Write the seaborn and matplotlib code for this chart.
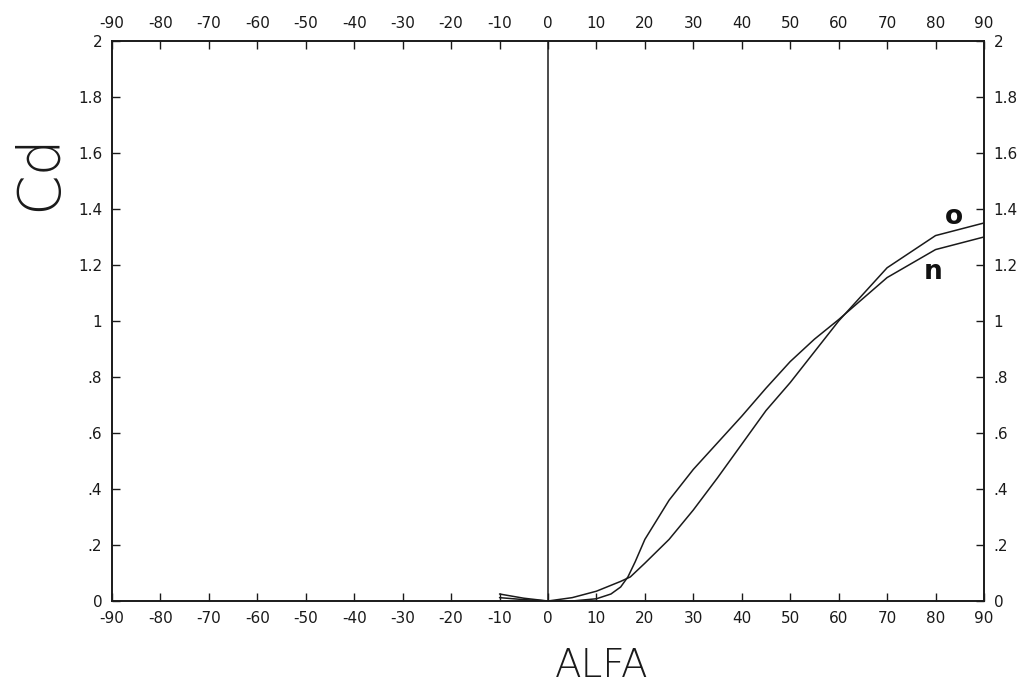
import matplotlib
matplotlib.use("Agg")
import matplotlib.pyplot as plt
import seaborn as sns
import pandas as pd

# --- data ---
alfa_o = [-10, -5, 0, 5, 10, 15, 17, 20, 25, 30, 35, 40, 45, 50, 55, 60, 70, 80, 90]
cd_o = [0.025, 0.01, 0.0, 0.012, 0.035, 0.07, 0.086, 0.135, 0.22, 0.325, 0.44,
        0.56, 0.68, 0.78, 0.89, 1.0, 1.19, 1.305, 1.35]

alfa_n = [-10, -5, 0, 5, 10, 13, 15, 16.5, 18, 20, 25, 30, 35, 40, 45, 50, 55, 60, 70, 80, 90]
cd_n = [0.012, 0.005, 0.0, 0.0, 0.008, 0.025, 0.05, 0.086, 0.14, 0.22, 0.36, 0.47,
        0.565, 0.66, 0.76, 0.855, 0.935, 1.005, 1.155, 1.255, 1.30]

x_ticks = list(range(-90, 100, 10))
x_tick_labels = [str(v) for v in x_ticks]
y_ticks = [0, 0.2, 0.4, 0.6, 0.8, 1.0, 1.2, 1.4, 1.6, 1.8, 2.0]
y_tick_labels = ["0", ".2", ".4", ".6", ".8", "1", "1.2", "1.4", "1.6", "1.8", "2"]

curve_labels = ["o", "n"]
label_pos_alfa = [83.9, 79.4]
label_pos_cd = [1.37, 1.175]

df = pd.concat([
    pd.DataFrame({"ALFA": alfa_o, "Cd": cd_o, "curve": "o"}),
    pd.DataFrame({"ALFA": alfa_n, "Cd": cd_n, "curve": "n"}),
])

sns.set_style("ticks")
plt.rcParams["font.family"] = ["DejaVu Sans"]
plt.rcParams["axes.unicode_minus"] = False

fig = plt.figure(figsize=(10.31, 6.92), dpi=100)
ax = fig.add_axes([0.1086, 0.1315, 0.9544 - 0.1086, 0.9408 - 0.1315])

sns.lineplot(data=df, x="ALFA", y="Cd", hue="curve", estimator=None, sort=False,
             palette={"o": "#1a1a1a", "n": "#1a1a1a"}, linewidth=1.1,
             legend=False, ax=ax)

ax.axvline(0, color="#1a1a1a", linewidth=1.1)

ax.set_xlim(-90, 90)
ax.set_ylim(0, 2)
ax.set_xticks(x_ticks)
ax.set_xticklabels(x_tick_labels)
ax.set_yticks(y_ticks)
ax.set_yticklabels(y_tick_labels)
ax.tick_params(axis="both", direction="in", length=6, width=1.0, labelsize=11,
               top=True, right=True, labeltop=True, labelright=True,
               colors="#1a1a1a", pad=7)
for s in ax.spines.values():
    s.set_linewidth(1.4)
    s.set_color("#1a1a1a")

for t, xa, ya in zip(curve_labels, label_pos_alfa, label_pos_cd):
    ax.text(xa, ya, t, fontsize=19, fontweight="bold", ha="center", va="center",
            color="#111111")

ax.set_xlabel("ALFA", fontsize=28, fontweight="light", color="#1a1a1a")
ax.set_ylabel("Cd", fontsize=42, fontweight="light", color="#1a1a1a")
ax.yaxis.set_label_coords(-0.05, 0.766)
ax.xaxis.set_label_coords(0.561, -0.082)

fig.savefig("out.png", dpi=100)
